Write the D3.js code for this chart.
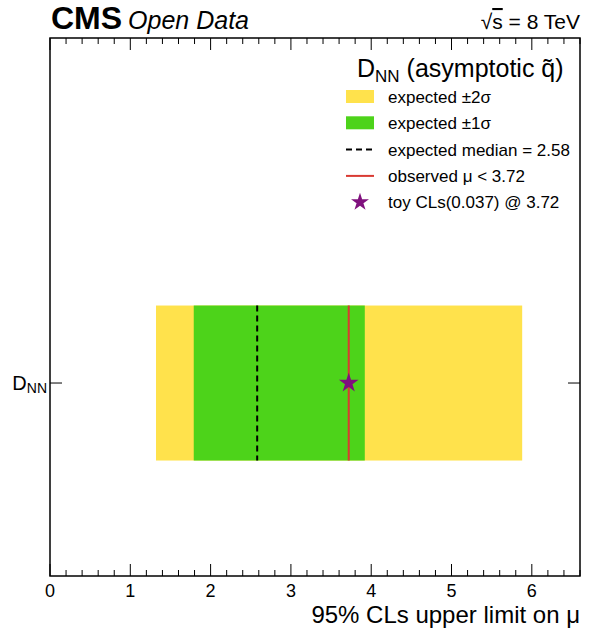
<!DOCTYPE html>
<html>
<head>
<meta charset="utf-8">
<script src="https://cdn.jsdelivr.net/npm/d3@7"></script>
<style>
  body { margin: 0; background: #fff; }
  text { font-family: "Liberation Sans", Arial, sans-serif; fill: #000; }
</style>
</head>
<body>
<script>
// limit results (one channel)
const categories = ['DNN']
const twoSigLo = [1.32]
const oneSigLo = [1.79]
const medians = [2.58]
const oneSigHi = [3.92]
const twoSigHi = [5.88]
const observed = [3.72]
const toyCLs = [0.037]
const xTicks = [0, 1, 2, 3, 4, 5, 6]

const svg = d3.select('body').append('svg')
  .attr('width', 593)
  .attr('height', 628)

const margin = { top: 38, right: 13, bottom: 52, left: 50 }
const width = 593 - margin.left - margin.right
const height = 628 - margin.top - margin.bottom

const x = d3.scaleLinear().domain([0, 6.6]).range([0, width])
const y = d3.scaleLinear().domain([-0.745, 2.726]).range([height, 0])

const g = svg.append('g').attr('transform', `translate(${margin.left},${margin.top})`)

const rows = categories.map((c, i) => ({
  name: c, lo2: twoSigLo[i], lo1: oneSigLo[i], med: medians[i],
  hi1: oneSigHi[i], hi2: twoSigHi[i], obs: observed[i], cls: toyCLs[i], pos: i
}))

// bands
g.selectAll('.b2').data(rows).enter().append('rect')
  .attr('x', d => x(d.lo2))
  .attr('width', d => x(d.hi2) - x(d.lo2))
  .attr('y', d => y(d.pos + 1))
  .attr('height', d => y(d.pos) - y(d.pos + 1))
  .attr('fill', '#ffe24c')

g.selectAll('.b1').data(rows).enter().append('rect')
  .attr('x', d => x(d.lo1))
  .attr('width', d => x(d.hi1) - x(d.lo1))
  .attr('y', d => y(d.pos + 1))
  .attr('height', d => y(d.pos) - y(d.pos + 1))
  .attr('fill', '#4dd31a')

g.selectAll('.med').data(rows).enter().append('line')
  .attr('x1', d => x(d.med)).attr('x2', d => x(d.med))
  .attr('y1', d => y(d.pos + 1)).attr('y2', d => y(d.pos))
  .attr('stroke', '#000').attr('stroke-width', 2)
  .attr('stroke-dasharray', '6,4')

g.selectAll('.obs').data(rows).enter().append('line')
  .attr('x1', d => x(d.obs)).attr('x2', d => x(d.obs))
  .attr('y1', d => y(d.pos + 1)).attr('y2', d => y(d.pos))
  .attr('stroke', '#d93a32').attr('stroke-width', 2)

g.selectAll('.star').data(rows).enter().append('path')
  .attr('d', d3.symbol().type(d3.symbolStar).size(120))
  .attr('transform', d => `translate(${x(d.obs)},${y(d.pos + 0.5)})`)
  .attr('fill', '#80107e')

// frame
g.append('rect')
  .attr('width', width).attr('height', height)
  .attr('fill', 'none').attr('stroke', '#000').attr('stroke-width', 1.5)

// x axis ticks (bottom and top, inward)
const minor = d3.range(0, 6.6001, 0.2).filter(v => Math.abs(v - Math.round(v)) > 1e-6)
const axisG = g.append('g').attr('stroke', '#000').attr('stroke-width', 1)
xTicks.forEach(v => {
  axisG.append('line').attr('x1', x(v)).attr('x2', x(v)).attr('y1', height).attr('y2', height - 12)
  axisG.append('line').attr('x1', x(v)).attr('x2', x(v)).attr('y1', 0).attr('y2', 12)
})
minor.forEach(v => {
  axisG.append('line').attr('x1', x(v)).attr('x2', x(v)).attr('y1', height).attr('y2', height - 6)
  axisG.append('line').attr('x1', x(v)).attr('x2', x(v)).attr('y1', 0).attr('y2', 6)
})

g.selectAll('.xlab').data(xTicks).enter().append('text')
  .attr('x', d => x(d)).attr('y', height + 21)
  .attr('text-anchor', 'middle').attr('font-size', 18)
  .text(d => d)

// y axis category ticks
rows.forEach(d => {
  const yy = y(d.pos + 0.5)
  axisG.append('line').attr('x1', 0).attr('x2', 12).attr('y1', yy).attr('y2', yy)
  axisG.append('line').attr('x1', width).attr('x2', width - 12).attr('y1', yy).attr('y2', yy)
  const t = g.append('text').attr('x', -3).attr('y', yy + 7)
    .attr('text-anchor', 'end').attr('font-size', 20)
  t.append('tspan').text('D')
  t.append('tspan').attr('font-size', 14).attr('dy', 3).text('NN')
})

svg.append('text').attr('x', 580).attr('y', 623)
  .attr('text-anchor', 'end').attr('font-size', 24)
  .text('95% CLs upper limit on μ')

// header
const hdr = svg.append('text').attr('x', 51).attr('y', 29)
hdr.append('tspan').attr('font-weight', 'bold').attr('font-size', 32).text('CMS')
hdr.append('tspan').attr('font-style', 'italic').attr('font-size', 25).attr('dx', 6).text('Open Data')

const en = svg.append('text').attr('x', 580).attr('y', 29)
  .attr('text-anchor', 'end').attr('font-size', 21)
en.append('tspan').text('√')
en.append('tspan').attr('text-decoration', 'overline').text('s')
en.append('tspan').text(' = 8 TeV')

// legend
const lt = svg.append('text').attr('x', 357).attr('y', 77).attr('font-size', 25)
lt.append('tspan').text('D')
lt.append('tspan').attr('font-size', 17).attr('dy', 5).text('NN')
lt.append('tspan').attr('dy', -5).text(' (asymptotic q\u0303)')

const legendItems = [
  { kind: 'box', color: '#ffe24c', label: 'expected ±2σ' },
  { kind: 'box', color: '#4dd31a', label: 'expected ±1σ' },
  { kind: 'dash', color: '#000', label: `expected median = ${medians[0].toFixed(2)}` },
  { kind: 'line', color: '#d93a32', label: `observed μ < ${observed[0].toFixed(2)}` },
  { kind: 'star', color: '#80107e', label: `toy CLs(${toyCLs[0]}) @ ${observed[0].toFixed(2)}` }
]
const leg = svg.append('g').attr('transform', 'translate(346,97)')
legendItems.forEach((d, i) => {
  const row = leg.append('g').attr('transform', `translate(0,${i * 26.3})`)
  if (d.kind === 'box') {
    row.append('rect').attr('x', 0).attr('y', -7).attr('width', 28).attr('height', 13).attr('fill', d.color)
  } else if (d.kind === 'star') {
    row.append('path').attr('d', d3.symbol().type(d3.symbolStar).size(100))
      .attr('transform', 'translate(14,0)').attr('fill', d.color)
  } else {
    row.append('line').attr('x1', 0).attr('x2', 28).attr('y1', 0).attr('y2', 0)
      .attr('stroke', d.color).attr('stroke-width', 2)
      .attr('stroke-dasharray', d.kind === 'dash' ? '6,4' : null)
  }
  row.append('text').attr('x', 42).attr('y', 6).attr('font-size', 17).text(d.label)
})
</script>
</body>
</html>
